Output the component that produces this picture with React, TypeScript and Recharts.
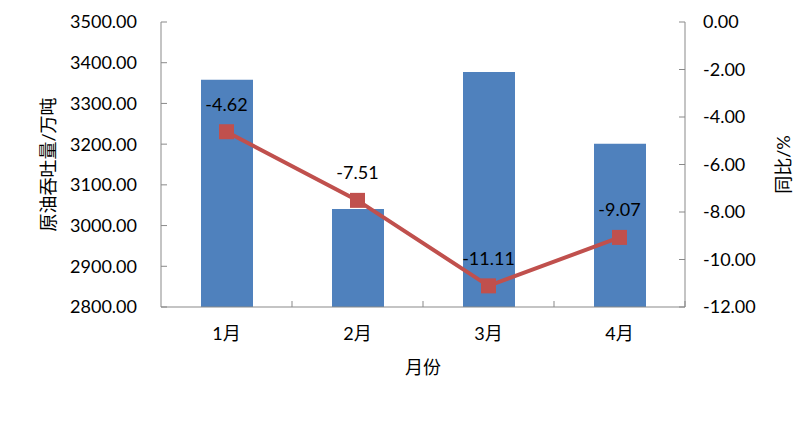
import { ComposedChart, Bar, Line, XAxis, YAxis, LabelList } from "recharts";

const months = ["1月", "2月", "3月", "4月"];
const throughput = [3358, 3041, 3377, 3201];
const yoy = [-4.62, -7.51, -11.11, -9.07];
const leftTicks = [2800, 2900, 3000, 3100, 3200, 3300, 3400, 3500];
const rightTicks = [0, -2, -4, -6, -8, -10, -12];

const data = months.map((m, i) => ({ month: m, value: throughput[i], yoy: yoy[i] }));

const W = 811;
const H = 444;
const LEFT_W = 161;
const RIGHT_W = 126;
const PLOT_W = W - LEFT_W - RIGHT_W;
const FONT = "Lato, 'Noto Sans CJK SC', sans-serif";
const AXIS = "#898989";
const BLUE = "#4F81BD";
const RED = "#C0504D";
const TICK_M = 20;

const MonthTick = (props: any) => {
  const { x, y, payload } = props;
  const half = payload?.offset || PLOT_W / months.length / 2;
  const axisY = y - TICK_M;
  return (
    <g>
      <line x1={x + half} x2={x + half} y1={axisY - 6} y2={axisY} stroke={AXIS} />
      <text x={x} y={y} dy="0.71em" textAnchor="middle" fontSize={18} fontFamily={FONT} fill="#000">
        {payload.value}
      </text>
    </g>
  );
};

const SquareDot = (props: any) => {
  const { cx, cy, index } = props;
  if (cx == null || cy == null) return null;
  return <rect key={index} x={cx - 7.5} y={cy - 7.5} width={15} height={15} fill={RED} />;
};

const VTitle = (text: string, dx: number) => (props: any) => {
  const vb = props.viewBox || {};
  const cx = vb.x + dx;
  const cy = vb.y + vb.height / 2;
  return (
    <text
      x={cx}
      y={cy}
      transform={`rotate(-90, ${cx}, ${cy})`}
      textAnchor="middle"
      dominantBaseline="central"
      fontSize={18}
      fontFamily={FONT}
      fill="#000"
    >
      {text}
    </text>
  );
};

const XTitle = (props: any) => {
  const vb = props.viewBox || {};
  const cx = vb.x + vb.width / 2;
  return (
    <text x={cx} y={367} textAnchor="middle" dominantBaseline="central" fontSize={18} fontFamily={FONT} fill="#000">
      月份
    </text>
  );
};

export default function App() {
  return (
    <div style={{ position: "absolute", left: 0, top: 0, width: W, height: H, background: "#fff" }}>
      <ComposedChart width={W} height={H} data={data} margin={{ top: 22, right: 0, left: 0, bottom: 62 }}>
        <XAxis
          dataKey="month"
          height={75}
          stroke={AXIS}
          tickLine={false}
          tickSize={0}
          tickMargin={TICK_M}
          tick={<MonthTick />}
          interval={0}
          label={{ content: XTitle }}
        />
        <YAxis
          yAxisId="left"
          width={LEFT_W}
          domain={[2800, 3500]}
          ticks={leftTicks}
          tickFormatter={(v: number) => v.toFixed(2)}
          stroke={AXIS}
          tickSize={-6}
          tickMargin={30}
          tick={{ fill: "#000", fontSize: 18, fontFamily: FONT }}
          interval={0}
          label={{ content: VTitle("原油吞吐量/万吨", 48) }}
        />
        <YAxis
          yAxisId="right"
          orientation="right"
          width={RIGHT_W}
          domain={[-12, 0]}
          ticks={rightTicks}
          tickFormatter={(v: number) => v.toFixed(2)}
          stroke={AXIS}
          tickSize={-6}
          tickMargin={24}
          tick={{ fill: "#000", fontSize: 18, fontFamily: FONT }}
          interval={0}
          label={{ content: VTitle("同比/%", 98) }}
        />
        <Bar yAxisId="left" dataKey="value" fill={BLUE} barSize={52} isAnimationActive={false} />
        <Line
          yAxisId="right"
          dataKey="yoy"
          stroke={RED}
          strokeWidth={4}
          dot={<SquareDot />}
          activeDot={false}
          isAnimationActive={false}
        >
          <LabelList
            dataKey="yoy"
            position="top"
            offset={21}
            formatter={(v: any) => Number(v).toFixed(2)}
            style={{ fill: "#000", fontSize: 18, fontFamily: FONT }}
          />
        </Line>
      </ComposedChart>
    </div>
  );
}
